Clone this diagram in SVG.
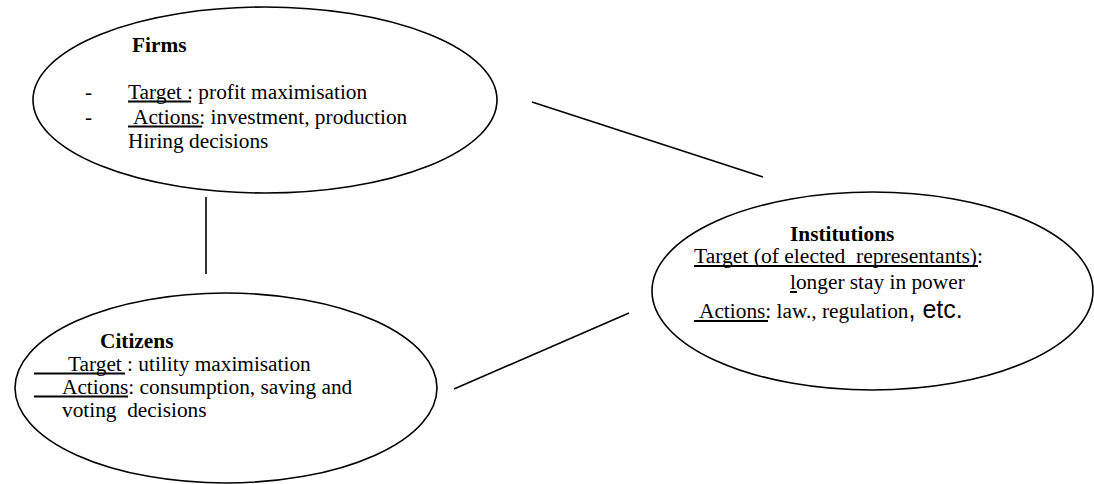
<svg xmlns="http://www.w3.org/2000/svg" width="1094" height="484" viewBox="0 0 1094 484">
<style>
.shape{fill:none;stroke:#000;stroke-width:1.6}
.conn{stroke:#000;stroke-width:1.6;fill:none}
.t{font-family:"Liberation Serif","Times New Roman",serif;font-size:21.33px;fill:#000;white-space:pre}
.b{font-weight:bold}
.u{stroke:#000;stroke-width:2}
.s{font-family:"Liberation Sans",Arial,sans-serif;font-size:25px}
</style>
<rect width="1094" height="484" fill="#fff"/>
<g id="connectors">
<line class="conn" x1="206" y1="197" x2="206" y2="274"/>
<line class="conn" x1="532" y1="102" x2="763" y2="177"/>
<line class="conn" x1="454" y1="389" x2="629" y2="313"/>
</g>
<g id="firms">
<ellipse class="shape" cx="265" cy="100" rx="232" ry="93"/>
<text class="t b" x="132" y="52">Firms</text>
<text class="t" x="85" y="99">-</text>
<text class="t" x="85" y="124">-</text>
<text class="t" x="128" y="99">Target : profit maximisation</text>
<line class="u" x1="128" y1="101.5" x2="191" y2="101.5"/>
<text class="t" x="133" y="124">Actions: investment, production</text>
<line class="u" x1="128" y1="126.5" x2="202" y2="126.5"/>
<text class="t" x="128" y="148">Hiring decisions</text>
</g>
<g id="institutions">
<ellipse class="shape" cx="872.5" cy="291" rx="220.5" ry="99"/>
<text class="t b" x="790" y="241">Institutions</text>
<text class="t" x="694" y="263" xml:space="preserve" textLength="289" lengthAdjust="spacingAndGlyphs">Target (of elected  representants):</text>
<line class="u" x1="694" y1="266" x2="978" y2="266"/>
<text class="t" x="790" y="289">longer stay in power</text>
<line class="u" x1="790" y1="292" x2="797" y2="292"/>
<text class="t" x="699" y="318">Actions: law., regulation<tspan class="s">, etc.</tspan></text>
<line class="u" x1="694" y1="321" x2="768" y2="321"/>
</g>
<g id="citizens">
<ellipse class="shape" cx="226" cy="388" rx="211" ry="95"/>
<text class="t b" x="100" y="348">Citizens</text>
<text class="t" x="68" y="371">Target : utility maximisation</text>
<line class="u" x1="34" y1="373.5" x2="125" y2="373.5"/>
<text class="t" x="62" y="394">Actions: consumption, saving and</text>
<line class="u" x1="34" y1="396.5" x2="128" y2="396.5"/>
<text class="t" x="62" y="417" xml:space="preserve">voting  decisions</text>
</g>
</svg>
